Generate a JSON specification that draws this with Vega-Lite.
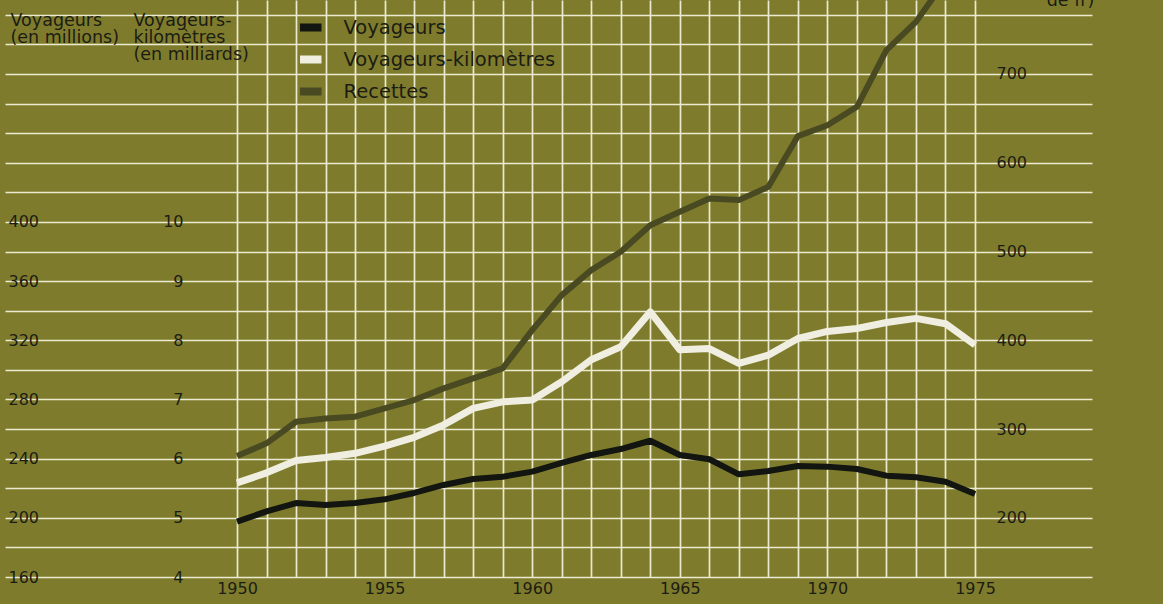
{
  "$schema": "https://vega.github.io/schema/vega-lite/v6.json",
  "width": 1087,
  "height": 577,
  "autosize": {"type": "none"},
  "padding": {"left": 5, "top": 0, "right": 71, "bottom": 27},
  "background": "#7e7c2c",
  "config": {
    "view": {"stroke": null},
    "font": "DejaVu Sans",
    "axis": {
      "labelColor": "#1c1c14",
      "titleColor": "#1c1c14",
      "labelFont": "DejaVu Sans",
      "titleFont": "DejaVu Sans",
      "labelFontSize": 16,
      "titleFontSize": 17.5,
      "titleFontWeight": "normal",
      "titleLineHeight": 17,
      "domain": false,
      "ticks": false,
      "tickSize": 0,
      "labelOverlap": false,
      "labelFlush": false,
      "labelBound": false,
      "gridColor": "#ebe9cf",
      "gridWidth": 1.7,
      "gridOpacity": 1
    },
    "legend": {
      "labelFont": "DejaVu Sans",
      "labelColor": "#1c1c14"
    }
  },
  "data": {
    "values": [
      {"year": 1950, "voyageurs": 197.4, "vk": 5.59, "recettes": 269.6},
      {"year": 1951, "voyageurs": 204.3, "vk": 5.76, "recettes": 283.9},
      {"year": 1952, "voyageurs": 210.0, "vk": 5.97, "recettes": 308.2},
      {"year": 1953, "voyageurs": 208.7, "vk": 6.02, "recettes": 312.0},
      {"year": 1954, "voyageurs": 210.0, "vk": 6.09, "recettes": 313.9},
      {"year": 1955, "voyageurs": 212.5, "vk": 6.21, "recettes": 323.3},
      {"year": 1956, "voyageurs": 216.8, "vk": 6.36, "recettes": 332.7},
      {"year": 1957, "voyageurs": 222.2, "vk": 6.57, "recettes": 345.8},
      {"year": 1958, "voyageurs": 226.2, "vk": 6.85, "recettes": 357.1},
      {"year": 1959, "voyageurs": 227.8, "vk": 6.96, "recettes": 368.4},
      {"year": 1960, "voyageurs": 231.2, "vk": 6.99, "recettes": 411.5},
      {"year": 1961, "voyageurs": 237.1, "vk": 7.30, "recettes": 450.9},
      {"year": 1962, "voyageurs": 242.5, "vk": 7.67, "recettes": 479.0},
      {"year": 1963, "voyageurs": 246.5, "vk": 7.89, "recettes": 499.7},
      {"year": 1964, "voyageurs": 252.1, "vk": 8.48, "recettes": 529.7},
      {"year": 1965, "voyageurs": 242.5, "vk": 7.84, "recettes": 544.7},
      {"year": 1966, "voyageurs": 239.6, "vk": 7.86, "recettes": 559.8},
      {"year": 1967, "voyageurs": 229.4, "vk": 7.61, "recettes": 557.9},
      {"year": 1968, "voyageurs": 231.6, "vk": 7.75, "recettes": 572.9},
      {"year": 1969, "voyageurs": 235.0, "vk": 8.03, "recettes": 630.0},
      {"year": 1970, "voyageurs": 234.6, "vk": 8.15, "recettes": 642.3},
      {"year": 1971, "voyageurs": 233.0, "vk": 8.20, "recettes": 663.0},
      {"year": 1972, "voyageurs": 228.5, "vk": 8.30, "recettes": 726.8},
      {"year": 1973, "voyageurs": 227.4, "vk": 8.37, "recettes": 758.7},
      {"year": 1974, "voyageurs": 224.4, "vk": 8.28, "recettes": 805.6},
      {"year": 1975, "voyageurs": 216.1, "vk": 7.92, "recettes": 839.0}
    ]
  },
  "encoding": {
    "x": {
      "field": "year",
      "type": "quantitative",
      "scale": {"domain": [1942.141, 1978.963], "nice": false, "zero": false},
      "axis": {
        "values": [1950,1951,1952,1953,1954,1955,1956,1957,1958,1959,1960,1961,1962,1963,1964,1965,1966,1967,1968,1969,1970,1971,1972,1973,1974,1975],
        "grid": true,
        "format": "d",
        "labelExpr": "datum.value % 5 == 0 ? datum.label : ''",
        "labelPadding": 3,
        "labelBaseline": "top",
        "title": null
      }
    }
  },
  "layer": [
    {
      "mark": {"type": "line", "strokeWidth": 6, "strokeJoin": "round", "strokeCap": "butt", "clip": true},
      "encoding": {
        "y": {
          "field": "voyageurs",
          "type": "quantitative",
          "scale": {"domain": [160, 550], "nice": false, "zero": false},
          "axis": {
            "orient": "left",
            "values": [160,180,200,220,240,260,280,300,320,340,360,380,400,420,440,460,480,500,520,540],
            "grid": true,
            "labelExpr": "datum.value % 40 == 0 && datum.value <= 400 ? datum.label : ''",
            "labelAlign": "left",
            "labelBaseline": "middle",
            "labelPadding": -3,
            "title": ["Voyageurs", "(en millions)"],
            "titleAngle": 0,
            "titleAlign": "left",
            "titleBaseline": "alphabetic",
            "titleX": 5,
            "titleY": 25
          }
        },
        "color": {
          "datum": "Voyageurs",
          "scale": {"domain": ["Voyageurs", "Voyageurs-kilomètres", "Recettes"], "range": ["#121510", "#efeee0", "#4a4a22"]},
          "legend": {
            "orient": "none",
            "legendX": 290.75,
            "legendY": 12.5,
            "title": null,
            "padding": 0,
            "labelFontSize": 19.5,
            "labelOffset": 17.75,
            "labelLimit": 400,
            "rowPadding": 0,
            "symbolType": "stroke",
            "symbolSize": 462,
            "symbolStrokeWidth": 8
          }
        }
      }
    },
    {
      "mark": {"type": "line", "strokeWidth": 7, "strokeJoin": "round", "strokeCap": "butt", "clip": true},
      "encoding": {
        "y": {
          "field": "vk",
          "type": "quantitative",
          "scale": {"domain": [4, 13.75], "nice": false, "zero": false},
          "axis": {
            "orient": "left",
            "offset": -178,
            "values": [4,5,6,7,8,9,10],
            "grid": false,
            "labelAlign": "right",
            "labelBaseline": "middle",
            "labelPadding": 0,
            "title": ["Voyageurs-", "kilomètres", "(en milliards)"],
            "titleAngle": 0,
            "titleAlign": "left",
            "titleBaseline": "alphabetic",
            "titleX": -50,
            "titleY": 25
          }
        },
        "color": {"datum": "Voyageurs-kilomètres"}
      }
    },
    {
      "mark": {"type": "line", "strokeWidth": 6, "strokeJoin": "round", "strokeCap": "butt", "clip": true},
      "encoding": {
        "y": {
          "field": "recettes",
          "type": "quantitative",
          "scale": {"domain": [133.333, 783.333], "nice": false, "zero": false},
          "axis": {
            "orient": "right",
            "offset": -96,
            "values": [200,300,400,500,600,700],
            "grid": false,
            "labelAlign": "left",
            "labelBaseline": "middle",
            "labelPadding": 0,
            "title": ["Recettes", "(en millions", "de fr)"],
            "titleAngle": 0,
            "titleAlign": "center",
            "titleBaseline": "alphabetic",
            "titleX": 74,
            "titleY": -29
          }
        },
        "color": {"datum": "Recettes"}
      }
    }
  ],
  "resolve": {"scale": {"y": "independent"}, "axis": {"y": "independent"}}
}
